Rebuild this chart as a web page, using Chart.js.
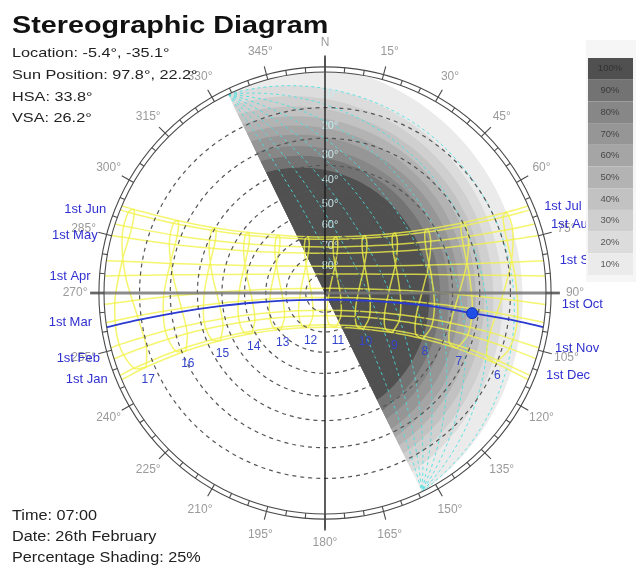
<!DOCTYPE html>
<html>
<head>
<meta charset="utf-8">
<script src="https://cdn.jsdelivr.net/npm/chart.js@4.4.1/dist/chart.umd.min.js"></script>
<style>
  html, body { margin: 0; padding: 0; background: #ffffff; }
  canvas { display: block; }
</style>
</head>
<body>
<canvas id="stereo" width="636" height="566"></canvas>
<script>
// ---- Site, time and current sun ----
const siteLatLon = [-5.4, -35.1];
const sunPosition = [97.8, 22.2];          // azimuth, altitude
const hsaValue = 33.8;
const vsaValue = 26.2;
const timeText = '07:00';
const dateText = '26th February';
const shadingPercent = 25;
const facadeNormalAz = 64;                 // window faces this azimuth

// ---- Sun paths: [azimuth, altitude] at each clock hour ----
const hours = [6, 7, 8, 9, 10, 11, 12, 13, 14, 15, 16, 17];
const monthLabels = ['1st Jan', '1st Feb', '1st Mar', '1st Apr', '1st May', '1st Jun',
                     '1st Jul', '1st Aug', '1st Sep', '1st Oct', '1st Nov', '1st Dec'];
const sunriseAz = [113.1, 107.3, 97.7, 85.6, 74.9, 67.9, 66.8, 71.8, 81.6, 93.0, 104.4, 111.9];
const sunsetAz  = [246.9, 252.7, 262.3, 274.4, 285.1, 292.1, 293.2, 288.2, 278.4, 267.0, 255.6, 248.1];

const pathJan = [[112.4,10.4],[112.8,24.2],[115.1,37.9],[120.5,51.1],[133.1,63.2],[162.4,71.5],[205.5,70.4],[230.5,60.9],[241.0,48.5],[245.6,35.1],[247.4,21.4],[247.5,7.6]];
const pathFeb = [[106.7,7.8],[106.4,22.1],[107.4,36.4],[110.7,50.6],[119.1,64.2],[145.6,75.6],[207.7,76.6],[239.0,65.9],[248.7,52.4],[252.3,38.3],[253.6,24.0],[253.4,9.7]];
const pathMar = [[97.1,7.4],[96.1,22.3],[95.6,37.1],[95.6,52.0],[97.0,66.8],[106.2,81.5],[250.8,82.9],[262.8,68.2],[264.4,53.4],[264.5,38.6],[263.9,23.7],[263.0,8.9]];
const pathApr = [[84.7,8.4],[82.9,23.3],[80.1,38.0],[75.5,52.6],[65.4,66.8],[31.8,78.5],[317.7,76.8],[291.9,64.2],[283.4,49.9],[279.3,35.3],[276.8,20.5],[275.0,5.6]];
const pathMay = [[73.9,8.8],[71.2,23.0],[66.6,37.0],[58.6,50.3],[43.0,62.0],[12.0,69.2],[332.8,67.0],[309.1,57.4],[297.5,44.9],[291.2,31.3],[287.5,17.1],[285.4,2.8]];
const pathJun = [[66.9,7.6],[63.9,21.2],[58.7,34.3],[49.8,46.5],[34.3,56.6],[9.0,62.3],[339.9,60.8],[318.6,53.0],[306.1,41.9],[299.0,29.2],[294.7,15.9],[292.3,2.2]];
const pathJul = [[66.0,6.1],[63.1,19.6],[58.1,32.6],[49.6,44.7],[35.0,54.9],[11.5,60.9],[343.2,60.2],[321.5,53.1],[308.4,42.5],[300.7,30.1],[296.2,17.0],[293.6,3.4]];
const pathAug = [[71.1,6.2],[68.5,20.2],[63.9,33.9],[56.1,46.9],[41.8,58.2],[15.5,65.6],[341.0,65.1],[316.1,57.1],[302.8,45.5],[295.5,32.4],[291.2,18.7],[288.7,4.6]];
const pathSep = [[80.6,9.0],[78.4,23.6],[74.9,38.2],[68.7,52.4],[55.6,65.7],[20.2,75.3],[324.4,73.0],[298.9,61.6],[288.9,47.9],[283.8,33.5],[280.8,19.0],[278.9,4.2]];
const pathOct = [[91.9,12.7],[90.6,27.6],[89.1,42.5],[87.1,57.5],[82.9,72.3],[46.7,86.5],[280.5,77.4],[273.9,62.5],[271.5,47.6],[269.9,32.7],[268.6,17.7],[267.3,2.8]];
const pathNov = [[103.4,14.9],[103.4,29.4],[104.7,43.9],[108.6,58.2],[120.7,71.9],[173.6,81.0],[236.1,73.6],[250.5,60.1],[255.0,45.8],[256.5,31.3],[256.7,16.8],[255.9,2.3]];
const pathDec = [[111.2,13.7],[111.8,27.6],[114.5,41.4],[120.8,54.7],[136.0,66.5],[172.5,73.5],[215.5,69.5],[235.8,58.6],[244.1,45.6],[247.6,32.0],[248.8,18.1],[248.5,4.2]];
const monthPaths = [pathJan, pathFeb, pathMar, pathApr, pathMay, pathJun,
                    pathJul, pathAug, pathSep, pathOct, pathNov, pathDec];

// today's path (26th February)
const todayRiseSetAz = [98.9, 261.1];
const pathToday = [[98.3,7.4],[97.8,22.2],[97.1,37.0],[97.5,51.8],[99.9,66.6],[113.3,81.0],[241.5,82.6],[259.5,68.3],[262.3,53.5],[262.9,38.7],[262.6,23.9],[261.8,9.1]];

// ---- Grid ----
const altitudeRings = [10, 20, 30, 40, 50, 60, 70, 80];
const azimuthLabels = [0, 15, 30, 45, 60, 75, 90, 105, 120, 135, 150, 165, 180, 195, 210, 225, 240, 255, 270, 285, 300, 315, 330, 345];
const vsaArcs = [10, 20, 30, 40, 50, 60, 70, 80];

// ---- Shading mask: contour of each level, angular radius about the mask pole ----
const shadeLevels = [100, 90, 80, 70, 60, 50, 40, 30, 20, 10];
const shadeContourDeg = [60, 64.5, 68, 72, 75, 78, 81, 84, 87, 93];
const shadePole = [262, 80.5];

// ---------------------------------------------------------------
const shadeGreys = [80, 115, 135, 150, 165, 179, 194, 207, 220, 235];

const DEG = Math.PI / 180;
function unitVec(az, alt) {
  return [Math.cos(alt * DEG) * Math.sin(az * DEG), Math.cos(alt * DEG) * Math.cos(az * DEG), Math.sin(alt * DEG)];
}
// stereographic projection from the nadir: horizon -> radius 1
function planeOf(v) { return { x: v[0] / (1 + v[2]), y: v[1] / (1 + v[2]) }; }
function sky(az, alt) { return planeOf(unitVec(az, alt)); }

function smallCircle(pole, radiusDeg, steps) {
  const P = unitVec(pole[0], pole[1]);
  const A = unitVec(pole[0] + 180, 90 - pole[1]);
  const B = unitVec(pole[0] + 90, 0);
  const cr = Math.cos(radiusDeg * DEG), sr = Math.sin(radiusDeg * DEG);
  const pts = [];
  for (let k = 0; k <= steps; k++) {
    const t = (k / steps) * 2 * Math.PI;
    const c = Math.cos(t), s = Math.sin(t);
    pts.push(planeOf([0, 1, 2].map(i => cr * P[i] + sr * (c * A[i] + s * B[i]))));
  }
  return pts;
}
function vsaArc(vsa, steps) {
  const U = unitVec(facadeNormalAz - 90, 0), N = unitVec(facadeNormalAz, 0);
  const pts = [];
  for (let k = 0; k <= steps; k++) {
    const t = (k / steps) * Math.PI;
    const c = Math.cos(t), s = Math.sin(t);
    const v = [0, 1, 2].map(i => c * U[i] + s * (Math.cos(vsa * DEG) * N[i] + (i === 2 ? Math.sin(vsa * DEG) : 0)));
    pts.push(planeOf(v));
  }
  return pts;
}
function shadeColor(i) {
  const g = shadeGreys[i];
  return `rgb(${g},${g},${g})`;
}

// ---- datasets ----
const yellow = 'rgba(242,242,70,0.78)';
const datasets = [];
datasets.push({
  label: 'sun', data: [sky(sunPosition[0], sunPosition[1])], showLine: false,
  pointRadius: 5.5, pointBackgroundColor: '#1f4fe6', pointBorderColor: '#0f2fb8', pointBorderWidth: 1, order: 0
});
datasets.push({
  label: 'today',
  data: [sky(todayRiseSetAz[0], 0), ...pathToday.map(p => sky(p[0], p[1])), sky(todayRiseSetAz[1], 0)],
  showLine: true, borderColor: '#2b3bd2', borderWidth: 1.8, pointRadius: 0, tension: 0.3, order: 1
});
monthPaths.forEach((path, i) => {
  datasets.push({
    label: monthLabels[i],
    data: [sky(sunriseAz[i], 0), ...path.map(p => sky(p[0], p[1])), sky(sunsetAz[i], 0)],
    showLine: true, borderColor: yellow, borderWidth: 1.5, pointRadius: 0, tension: 0.3, order: 3
  });
});
hours.forEach((h, j) => {
  const pts = monthPaths.map(path => sky(path[j][0], path[j][1]));
  pts.push(sky(monthPaths[0][j][0], monthPaths[0][j][1]));
  datasets.push({
    label: 'hour ' + h, data: pts,
    showLine: true, borderColor: yellow, borderWidth: 1.5, pointRadius: 0, tension: 0.3, order: 3
  });
});

// ---- drawing helpers ----
function geom(chart) {
  const xs = chart.scales.x, ys = chart.scales.y;
  const cx = xs.getPixelForValue(0), cy = ys.getPixelForValue(0);
  const R = xs.getPixelForValue(1) - cx;
  return { cx, cy, R, px: p => [xs.getPixelForValue(p.x), ys.getPixelForValue(p.y)] };
}
function tracePoly(ctx, g, pts) {
  ctx.beginPath();
  pts.forEach((p, i) => { const q = g.px(p); if (i) ctx.lineTo(q[0], q[1]); else ctx.moveTo(q[0], q[1]); });
}
function stretchText(ctx, text, x, y, font, color, sx) {
  ctx.save();
  ctx.font = font; ctx.fillStyle = color; ctx.textAlign = 'left'; ctx.textBaseline = 'alphabetic';
  ctx.translate(x, y); ctx.scale(sx, 1); ctx.fillText(text, 0, 0);
  ctx.restore();
}
const FONT = '"Liberation Sans", Arial, sans-serif';

const stereoOverlay = {
  id: 'stereoOverlay',
  beforeDatasetsDraw(chart) {
    const ctx = chart.ctx, g = geom(chart);
    ctx.save();
    // sky dome on the facade side of the window plane
    ctx.beginPath(); ctx.arc(g.cx, g.cy, g.R, 0, 2 * Math.PI); ctx.clip();
    const u = sky(facadeNormalAz - 90, 0), n = sky(facadeNormalAz, 0);
    tracePoly(ctx, g, [
      { x: -3 * u.x, y: -3 * u.y }, { x: 3 * u.x, y: 3 * u.y },
      { x: 3 * u.x + 3 * n.x, y: 3 * u.y + 3 * n.y }, { x: -3 * u.x + 3 * n.x, y: -3 * u.y + 3 * n.y }
    ]);
    ctx.closePath(); ctx.clip();
    // shading bands, lightest first
    for (let i = shadeLevels.length - 1; i >= 0; i--) {
      tracePoly(ctx, g, smallCircle(shadePole, shadeContourDeg[i], 180));
      ctx.closePath();
      ctx.fillStyle = shadeColor(i);
      ctx.fill();
    }
    // shading protractor (vertical shadow angle arcs)
    tracePoly(ctx, g, smallCircle(shadePole, shadeContourDeg[shadeLevels.length - 1], 180));
    ctx.closePath(); ctx.clip();
    ctx.setLineDash([3, 3]);
    ctx.lineWidth = 1;
    ctx.strokeStyle = 'rgba(70,225,225,0.85)';
    vsaArcs.forEach(v => { tracePoly(ctx, g, vsaArc(v, 120)); ctx.stroke(); });
    ctx.restore();

    // altitude labels along the north line
    ctx.save();
    ctx.font = '11px ' + FONT; ctx.fillStyle = 'rgba(200,236,240,0.95)';
    ctx.textAlign = 'center'; ctx.textBaseline = 'middle';
    altitudeRings.forEach(a => {
      const q = g.px(sky(0, a - 4));
      ctx.fillText(a + '°', q[0] + 5, q[1]);
    });
    ctx.restore();
  },
  beforeDatasetDraw(chart, args) {
    if (chart.data.datasets[args.index].label !== 'today') return;
    const ctx = chart.ctx, g = geom(chart);
    ctx.save();
    // altitude rings
    ctx.setLineDash([4, 4]);
    ctx.lineWidth = 1.2; ctx.strokeStyle = '#555';
    altitudeRings.forEach(a => {
      const r = Math.tan((90 - a) * DEG / 2) * g.R;
      ctx.beginPath(); ctx.arc(g.cx, g.cy, r, 0, 2 * Math.PI); ctx.stroke();
    });
    ctx.setLineDash([]);
    // east-west and north-south axes
    ctx.strokeStyle = 'rgba(120,120,120,0.85)'; ctx.lineWidth = 3;
    ctx.beginPath(); ctx.moveTo(g.cx - 1.063 * g.R, g.cy); ctx.lineTo(g.cx + 1.063 * g.R, g.cy); ctx.stroke();
    ctx.strokeStyle = '#1a1a1a'; ctx.lineWidth = 1.4;
    ctx.beginPath(); ctx.moveTo(g.cx, g.cy - 1.075 * g.R); ctx.lineTo(g.cx, g.cy + 1.075 * g.R); ctx.stroke();
    ctx.restore();
  },
  afterDatasetsDraw(chart) {
    const ctx = chart.ctx, g = geom(chart);
    ctx.save();
    // horizon double ring with azimuth ticks
    ctx.strokeStyle = '#4a4a4a'; ctx.lineWidth = 1.1;
    [1.0, 1.023].forEach(f => { ctx.beginPath(); ctx.arc(g.cx, g.cy, f * g.R, 0, 2 * Math.PI); ctx.stroke(); });
    for (let az = 0; az < 360; az += 5) {
      const s = Math.sin(az * DEG), c = Math.cos(az * DEG);
      const r1 = g.R, r2 = (az % 15 === 0 ? 1.062 : 1.023) * g.R;
      ctx.beginPath(); ctx.moveTo(g.cx + s * r1, g.cy - c * r1); ctx.lineTo(g.cx + s * r2, g.cy - c * r2); ctx.stroke();
    }
    ctx.font = '12px ' + FONT; ctx.fillStyle = '#9a9a9a';
    ctx.textAlign = 'center'; ctx.textBaseline = 'middle';
    azimuthLabels.forEach(az => {
      const s = Math.sin(az * DEG), c = Math.cos(az * DEG), r = 1.131 * g.R;
      ctx.fillText(az === 0 ? 'N' : az + '°', g.cx + s * r, g.cy - c * r);
    });

    // month labels at sunrise / sunset
    ctx.font = '13px ' + FONT; ctx.fillStyle = '#3030d0';
    monthLabels.forEach((lab, i) => {
      if (i < 6) {
        const q = g.px(sky(sunsetAz[i], 0));
        ctx.textAlign = 'right'; ctx.fillText(lab, q[0] - 14, q[1]);
      } else {
        const q = g.px(sky(sunriseAz[i], 0));
        ctx.textAlign = 'left'; ctx.fillText(lab, q[0] + 16, q[1]);
      }
    });
    // hour labels below the hour lines
    ctx.font = '12px ' + FONT; ctx.fillStyle = '#3344cc'; ctx.textAlign = 'center';
    hours.forEach((h, j) => {
      const q = g.px(sky(pathJan[j][0], pathJan[j][1]));
      ctx.fillText(String(h), q[0] + 2, q[1] + 13);
    });
    ctx.restore();
  },
  afterDraw(chart) {
    const ctx = chart.ctx;
    ctx.save();
    // shading legend
    ctx.fillStyle = '#f6f6f6'; ctx.fillRect(586, 40, 50, 242);
    const top = 58, h = 21.7;
    shadeLevels.forEach((lvl, i) => {
      ctx.fillStyle = shadeColor(i);
      ctx.fillRect(588, top + i * h, 45, h);
    });
    ctx.font = '9.5px ' + FONT; ctx.textAlign = 'center'; ctx.textBaseline = 'middle';
    ctx.fillStyle = 'rgba(40,40,40,0.75)';
    shadeLevels.forEach((lvl, i) => ctx.fillText(lvl + '%', 610, top + i * h + h / 2));
    ctx.restore();

    // title and readouts
    stretchText(ctx, 'Stereographic Diagram', 12, 33, 'bold 23px ' + FONT, '#111', 1.25);
    const info = [
      `Location: ${siteLatLon[0]}°, ${siteLatLon[1]}°`,
      `Sun Position: ${sunPosition[0]}°, ${sunPosition[1]}°`,
      `HSA: ${hsaValue}°`,
      `VSA: ${vsaValue}°`
    ];
    info.forEach((t, i) => stretchText(ctx, t, 12, 57 + i * 21.8, '13px ' + FONT, '#222', 1.25));
    const foot = [`Time: ${timeText}`, `Date: ${dateText}`, `Percentage Shading: ${shadingPercent}%`];
    foot.forEach((t, i) => stretchText(ctx, t, 12, 520 + i * 20.8, '14px ' + FONT, '#222', 1.16));
  }
};

const W = 636, H = 566, CX = 325, CY = 293, RH = 221;
new Chart(document.getElementById('stereo'), {
  type: 'scatter',
  data: { datasets },
  options: {
    responsive: false,
    animation: false,
    devicePixelRatio: 1,
    events: [],
    layout: { padding: 0, autoPadding: false },
    plugins: { legend: { display: false }, tooltip: { enabled: false }, title: { display: false } },
    scales: {
      x: { type: 'linear', display: false, min: -CX / RH, max: (W - CX) / RH },
      y: { type: 'linear', display: false, min: -(H - CY) / RH, max: CY / RH }
    }
  },
  plugins: [stereoOverlay]
});
</script>
</body>
</html>
